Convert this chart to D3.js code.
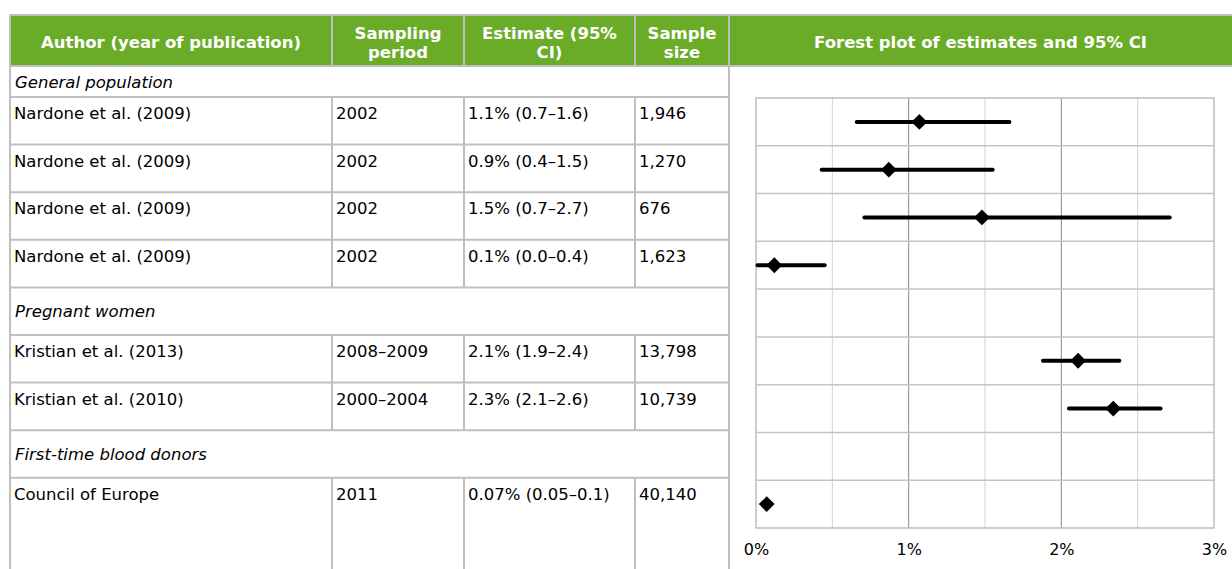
<!DOCTYPE html>
<html>
<head>
<meta charset="utf-8">
<script src="https://cdn.jsdelivr.net/npm/d3@7"></script>
<style>
  body { margin: 0; background: #fff; }
  text { font-family: "DejaVu Sans", Verdana, sans-serif; }
</style>
</head>
<body>
<div id="canvas"></div>
<script>
// DATA
const headers = [["Author (year of publication)"], ["Sampling", "period"], ["Estimate (95%", "CI)"], ["Sample", "size"], ["Forest plot of estimates and 95% CI"]];
const rowKind = ["group", "study", "study", "study", "study", "group", "study", "study", "group", "study"];
const authors = ["General population", "Nardone et al. (2009)", "Nardone et al. (2009)", "Nardone et al. (2009)", "Nardone et al. (2009)",
  "Pregnant women", "Kristian et al. (2013)", "Kristian et al. (2010)", "First-time blood donors", "Council of Europe"];
const periods = ["", "2002", "2002", "2002", "2002", "", "2008–2009", "2000–2004", "", "2011"];
const estimateText = ["", "1.1% (0.7–1.6)", "0.9% (0.4–1.5)", "1.5% (0.7–2.7)", "0.1% (0.0–0.4)", "", "2.1% (1.9–2.4)", "2.3% (2.1–2.6)", "", "0.07% (0.05–0.1)"];
const sampleSizes = ["", "1,946", "1,270", "676", "1,623", "", "13,798", "10,739", "", "40,140"];
// plotted values (percent)
const pointEst = [null, 1.07, 0.87, 1.48, 0.12, null, 2.11, 2.34, null, 0.07];
const ciLow    = [null, 0.66, 0.43, 0.71, 0.01, null, 1.88, 2.05, null, 0.05];
const ciHigh   = [null, 1.66, 1.55, 2.71, 0.45, null, 2.38, 2.65, null, 0.10];
const xTicks = [0, 1, 2, 3];

function drawGraph() {
  // DIMENSIONS
  const width = 1232, height = 569;
  const colEdges = [10, 332, 464, 635, 729, 1240];
  const headTop = 15, headBottom = 66;
  const firstRowBottom = 97, rowH = 47.6;
  const green = "#6aac27", border = "#bfbfbf";
  const fontSize = '16.5px';

  const canvas = d3.select('#canvas')
    .append('svg')
    .attr('width', width)
    .attr('height', height);

  // row geometry
  const rowTop = i => i === 0 ? headBottom : firstRowBottom + (i - 1) * rowH;
  const rowBottom = i => i === 0 ? firstRowBottom : (i === rowKind.length - 1 ? height + 10 : firstRowBottom + i * rowH);
  const rows = rowKind.map((k, i) => ({ i, kind: k, top: rowTop(i), bottom: rowBottom(i) }));

  // HEADER
  canvas.append('rect')
    .attr('x', colEdges[0]).attr('y', headTop)
    .attr('width', width - colEdges[0]).attr('height', headBottom - headTop)
    .style('fill', green);

  const head = canvas.append('g');
  headers.forEach((lines, c) => {
    const cx = (colEdges[c] + Math.min(colEdges[c + 1], width)) / 2;
    const t = head.append('text')
      .attr('x', cx)
      .attr('y', lines.length === 1 ? 48 : 39)
      .style('text-anchor', 'middle')
      .style('font-weight', 'bold')
      .style('font-size', fontSize)
      .style('fill', 'white');
    lines.forEach((l, j) => {
      t.append('tspan').attr('x', cx).attr('dy', j === 0 ? 0 : 19).text(l);
    });
  });

  // TABLE LINES
  const lines = canvas.append('g')
    .style('stroke', border)
    .style('fill', 'none');

  lines.append('line').attr('x1', colEdges[0]).attr('x2', width).attr('y1', headTop).attr('y2', headTop).style('stroke-width', 2);
  lines.append('line').attr('x1', colEdges[0]).attr('x2', width).attr('y1', headBottom).attr('y2', headBottom).style('stroke-width', 2);
  // header inner dividers
  [1, 2, 3, 4].forEach(c => {
    lines.append('line').attr('x1', colEdges[c]).attr('x2', colEdges[c])
      .attr('y1', headTop).attr('y2', headBottom).style('stroke-width', 2);
  });
  // outer verticals
  lines.append('line').attr('x1', colEdges[0]).attr('x2', colEdges[0]).attr('y1', headTop).attr('y2', height).style('stroke-width', 2);
  lines.append('line').attr('x1', colEdges[4]).attr('x2', colEdges[4]).attr('y1', headTop).attr('y2', height).style('stroke-width', 2);

  // row bottoms
  lines.selectAll('line.row').data(rows.filter(r => r.i < rows.length - 1)).enter()
    .append('line').attr('class', 'row')
    .attr('x1', colEdges[0]).attr('x2', colEdges[4])
    .attr('y1', d => d.bottom).attr('y2', d => d.bottom)
    .style('stroke-width', 2);

  // inner verticals for study rows
  rows.filter(r => r.kind === 'study').forEach(r => {
    [1, 2, 3].forEach(c => {
      lines.append('line').attr('x1', colEdges[c]).attr('x2', colEdges[c])
        .attr('y1', r.top).attr('y2', r.bottom).style('stroke-width', 2);
    });
  });

  // TABLE TEXT
  const body = canvas.append('g').style('font-size', fontSize).style('fill', '#000');
  body.selectAll('text.group').data(rows.filter(r => r.kind === 'group')).enter()
    .append('text').attr('class', 'group')
    .attr('x', colEdges[0] + 5)
    .attr('y', d => (d.top + d.bottom) / 2 + 6)
    .style('font-style', 'italic')
    .text(d => authors[d.i]);

  const cols = [authors, periods, estimateText, sampleSizes];
  rows.filter(r => r.kind === 'study').forEach(r => {
    cols.forEach((arr, c) => {
      body.append('text')
        .attr('x', colEdges[c] + 4)
        .attr('y', r.top + 22)
        .text(arr[r.i]);
    });
  });

  // FOREST PLOT
  const plotRows = d3.range(1, rowKind.length);
  const scaleX = d3.scaleLinear().domain([0, 3]).range([756, 1214]);
  const scaleY = d3.scaleBand().domain(plotRows).range([98, 528]);

  const plot = canvas.append('g');
  const grid = d3.range(0.5, 3, 0.5);
  plot.selectAll('line.vgrid').data(grid).enter()
    .append('line').attr('class', 'vgrid')
    .attr('x1', d => scaleX(d)).attr('x2', d => scaleX(d))
    .attr('y1', scaleY.range()[0]).attr('y2', scaleY.range()[1])
    .style('stroke', d => d % 1 === 0 ? '#8a8a8a' : '#d2d2d2')
    .style('stroke-width', 1);

  plot.selectAll('line.hgrid').data(plotRows.slice(1)).enter()
    .append('line').attr('class', 'hgrid')
    .attr('x1', scaleX(0)).attr('x2', scaleX(3))
    .attr('y1', d => scaleY(d)).attr('y2', d => scaleY(d))
    .style('stroke', '#c4c4c4')
    .style('stroke-width', 1.5);

  plot.append('rect')
    .attr('x', scaleX(0)).attr('y', scaleY.range()[0])
    .attr('width', scaleX(3) - scaleX(0))
    .attr('height', scaleY.range()[1] - scaleY.range()[0])
    .style('fill', 'none')
    .style('stroke', '#bdbdbd')
    .style('stroke-width', 1.5);

  const studies = plotRows.filter(i => pointEst[i] !== null);
  plot.selectAll('line.ci').data(studies).enter()
    .append('line').attr('class', 'ci')
    .attr('x1', i => scaleX(ciLow[i])).attr('x2', i => scaleX(ciHigh[i]))
    .attr('y1', i => scaleY(i) + scaleY.bandwidth() / 2)
    .attr('y2', i => scaleY(i) + scaleY.bandwidth() / 2)
    .style('stroke', '#000')
    .style('stroke-width', 4)
    .style('stroke-linecap', 'round');

  plot.selectAll('path.est').data(studies).enter()
    .append('path').attr('class', 'est')
    .attr('d', d3.symbol(d3.symbolSquare, 125))
    .attr('transform', i => `translate(${scaleX(pointEst[i])},${scaleY(i) + scaleY.bandwidth() / 2}) rotate(45)`)
    .style('fill', '#000');

  // AXIS
  const xAx = d3.axisBottom(scaleX)
    .tickValues(xTicks)
    .tickFormat(d => d + '%')
    .tickSize(0)
    .tickPadding(16);

  const xaxis = plot.append('g')
    .attr('transform', `translate(0, ${scaleY.range()[1]})`)
    .call(xAx);
  xaxis.select('.domain').remove();
  xaxis.selectAll('text')
    .style('font-family', '"DejaVu Sans", Verdana, sans-serif')
    .style('font-size', '16px')
    .style('fill', '#000');
}

drawGraph();
</script>
</body>
</html>
